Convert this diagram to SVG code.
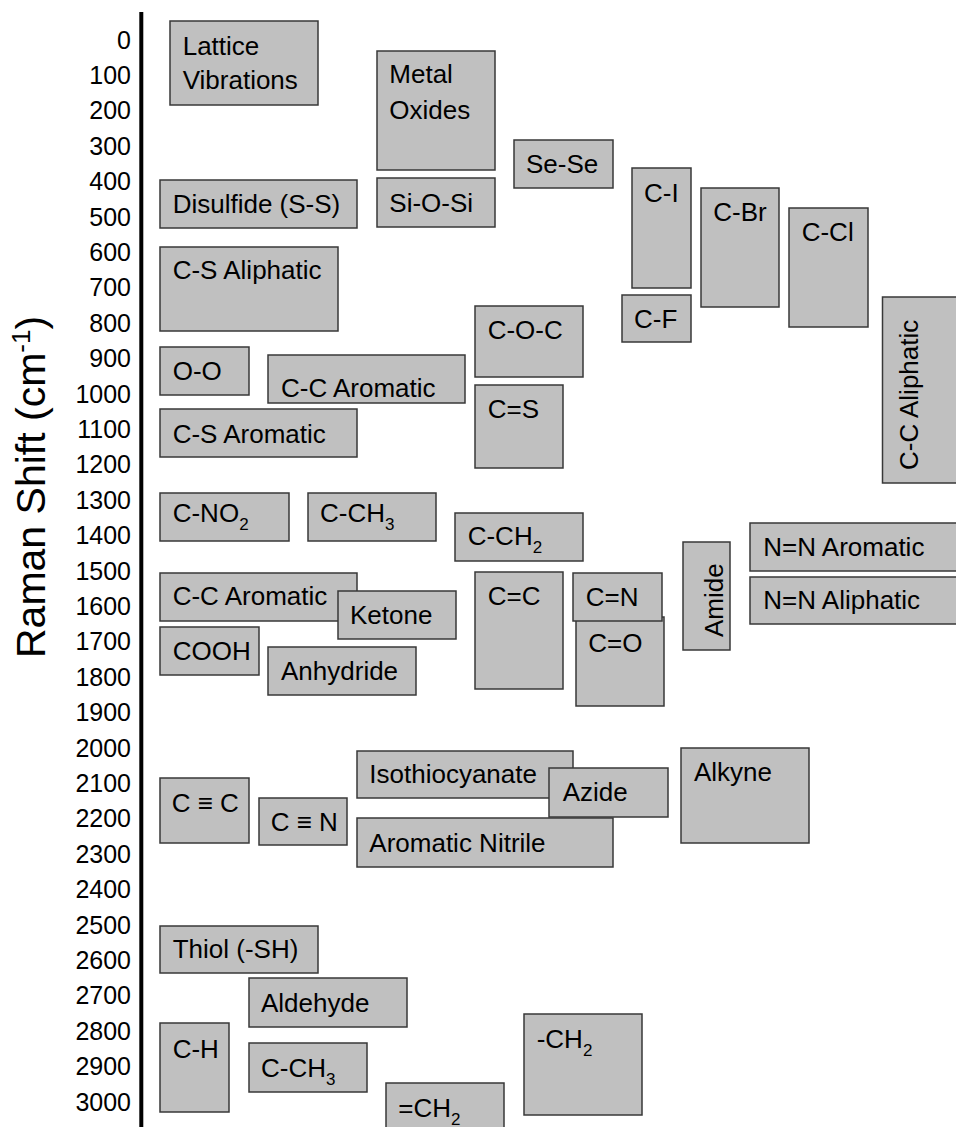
<svg xmlns="http://www.w3.org/2000/svg" width="956" height="1127" viewBox="0 0 956 1127">
<style>
.b{fill:#c0c0c0;stroke:#383838;stroke-width:1.5}
.t{font-family:"Liberation Sans",Arial,sans-serif;font-size:26px;fill:#000}
.k{font-family:"Liberation Sans",Arial,sans-serif;font-size:25px;fill:#000;text-anchor:end}
.s{font-size:17px}
</style>
<rect width="956" height="1127" fill="#fff"/>
<g id="axis">
<line x1="141.3" y1="12" x2="141.3" y2="1127" stroke="#000" stroke-width="4"/>
<text class="k" x="131" y="48.5">0</text>
<text class="k" x="131" y="83.9">100</text>
<text class="k" x="131" y="119.3">200</text>
<text class="k" x="131" y="154.7">300</text>
<text class="k" x="131" y="190.1">400</text>
<text class="k" x="131" y="225.5">500</text>
<text class="k" x="131" y="260.9">600</text>
<text class="k" x="131" y="296.3">700</text>
<text class="k" x="131" y="331.7">800</text>
<text class="k" x="131" y="367.1">900</text>
<text class="k" x="131" y="402.5">1000</text>
<text class="k" x="131" y="437.9">1100</text>
<text class="k" x="131" y="473.3">1200</text>
<text class="k" x="131" y="508.7">1300</text>
<text class="k" x="131" y="544.1">1400</text>
<text class="k" x="131" y="579.5">1500</text>
<text class="k" x="131" y="614.9">1600</text>
<text class="k" x="131" y="650.3">1700</text>
<text class="k" x="131" y="685.7">1800</text>
<text class="k" x="131" y="721.1">1900</text>
<text class="k" x="131" y="756.5">2000</text>
<text class="k" x="131" y="791.9">2100</text>
<text class="k" x="131" y="827.3">2200</text>
<text class="k" x="131" y="862.7">2300</text>
<text class="k" x="131" y="898.1">2400</text>
<text class="k" x="131" y="933.5">2500</text>
<text class="k" x="131" y="968.9">2600</text>
<text class="k" x="131" y="1004.3">2700</text>
<text class="k" x="131" y="1039.7">2800</text>
<text class="k" x="131" y="1075.1">2900</text>
<text class="k" x="131" y="1110.5">3000</text>
<text transform="translate(45,658) rotate(-90)" font-family="Liberation Sans,Arial,sans-serif" font-size="41" fill="#000">Raman Shift (cm<tspan font-size="26" dy="-15">-1</tspan><tspan dy="15">)</tspan></text>
</g>
<g id="connectors"/>
<g id="lattice"><rect class="b" x="170" y="21" width="148" height="84"/><text class="t" x="182.7" y="55">Lattice</text><text class="t" x="182.7" y="89">Vibrations</text></g>
<g id="disulfide"><rect class="b" x="160" y="180" width="197" height="48"/><text class="t" x="172.7" y="213">Disulfide (S-S)</text></g>
<g id="cs-aliphatic"><rect class="b" x="160" y="247" width="178" height="84"/><text class="t" x="172.7" y="279">C-S Aliphatic</text></g>
<g id="metal-oxides"><rect class="b" x="377" y="51" width="118" height="119"/><text class="t" x="389.3" y="83">Metal</text><text class="t" x="389.3" y="119">Oxides</text></g>
<g id="si-o-si"><rect class="b" x="377" y="178" width="118" height="49"/><text class="t" x="389.3" y="211.5">Si-O-Si</text></g>
<g id="se-se"><rect class="b" x="514" y="140" width="99" height="48"/><text class="t" x="526" y="173">Se-Se</text></g>
<g id="c-i"><rect class="b" x="632" y="168" width="59" height="120"/><text class="t" x="644" y="201.5">C-I</text></g>
<g id="c-f"><rect class="b" x="622" y="295" width="69" height="47"/><text class="t" x="634" y="328">C-F</text></g>
<g id="c-br"><rect class="b" x="701" y="188" width="78" height="119"/><text class="t" x="713.3" y="220.5">C-Br</text></g>
<g id="c-cl"><rect class="b" x="789" y="208" width="79" height="119"/><text class="t" x="801.7" y="240.5">C-Cl</text></g>
<g id="cc-aliphatic"><rect class="b" x="882.5" y="297" width="80" height="186"/><text class="t" transform="translate(918,470) rotate(-90)">C-C Aliphatic</text></g>
<g id="o-o"><rect class="b" x="160" y="347" width="89" height="48"/><text class="t" x="172.7" y="380">O-O</text></g>
<g id="cc-aromatic-1"><rect class="b" x="268" y="355" width="197" height="48"/><text class="t" x="281" y="396.5">C-C Aromatic</text></g>
<g id="cs-aromatic"><rect class="b" x="160" y="409" width="197" height="48"/><text class="t" x="172.7" y="442.5">C-S Aromatic</text></g>
<g id="c-o-c"><rect class="b" x="475" y="306" width="108" height="71"/><text class="t" x="487.7" y="339">C-O-C</text></g>
<g id="c-s-double"><rect class="b" x="475" y="385" width="88" height="83"/><text class="t" x="487.7" y="418">C=S</text></g>
<g id="c-no2"><rect class="b" x="160" y="493" width="129" height="48"/><text class="t" x="172.7" y="521.5">C-NO<tspan class="s" dy="8">2</tspan></text></g>
<g id="c-ch3"><rect class="b" x="308" y="493" width="128" height="48"/><text class="t" x="320" y="521.5">C-CH<tspan class="s" dy="8">3</tspan></text></g>
<g id="c-ch2"><rect class="b" x="455" y="513" width="128" height="48"/><text class="t" x="467.7" y="545">C-CH<tspan class="s" dy="8">2</tspan></text></g>
<g id="cc-aromatic-2"><rect class="b" x="160" y="573" width="197" height="48"/><text class="t" x="172.7" y="605">C-C Aromatic</text></g>
<g id="ketone"><rect class="b" x="338" y="591" width="118" height="48"/><text class="t" x="350" y="624">Ketone</text></g>
<g id="cooh"><rect class="b" x="160" y="627" width="99" height="48"/><text class="t" x="172.7" y="660">COOH</text></g>
<g id="anhydride"><rect class="b" x="268" y="647" width="148" height="48"/><text class="t" x="281" y="680">Anhydride</text></g>
<g id="c-c-double"><rect class="b" x="475" y="572" width="88" height="117"/><text class="t" x="487.7" y="605">C=C</text></g>
<g id="c-o-double"><rect class="b" x="576" y="617" width="88" height="89"/><text class="t" x="588.3" y="651.5">C=O</text></g>
<g id="c-n-double"><rect class="b" x="573" y="573" width="89" height="48"/><text class="t" x="585.7" y="606">C=N</text></g>
<g id="amide"><rect class="b" x="683" y="542" width="47" height="108"/><text class="t" transform="translate(723.3,637) rotate(-90)">Amide</text></g>
<g id="nn-aromatic"><rect class="b" x="750" y="523" width="210" height="48"/><text class="t" x="763.3" y="556">N=N Aromatic</text></g>
<g id="nn-aliphatic"><rect class="b" x="750" y="577" width="210" height="47"/><text class="t" x="763.3" y="609.3">N=N Aliphatic</text></g>
<g id="c-c-triple"><rect class="b" x="160" y="778" width="89" height="65"/><text class="t" x="171.7" y="811.5">C ≡ C</text></g>
<g id="c-n-triple"><rect class="b" x="259" y="798" width="88" height="47"/><text class="t" x="270.7" y="831">C ≡ N</text></g>
<g id="isothiocyanate"><rect class="b" x="357" y="751" width="216" height="47"/><text class="t" x="369.3" y="783.3">Isothiocyanate</text></g>
<g id="azide"><rect class="b" x="549" y="768" width="119" height="49"/><text class="t" x="562.7" y="801">Azide</text></g>
<g id="aromatic-nitrile"><rect class="b" x="357" y="818" width="256" height="49"/><text class="t" x="369.3" y="851.5">Aromatic Nitrile</text></g>
<g id="alkyne"><rect class="b" x="681" y="748" width="128" height="95"/><text class="t" x="694" y="781">Alkyne</text></g>
<g id="thiol"><rect class="b" x="160" y="926" width="158" height="47"/><text class="t" x="172.7" y="958.3">Thiol (-SH)</text></g>
<g id="aldehyde"><rect class="b" x="249" y="978" width="158" height="49"/><text class="t" x="261" y="1011.5">Aldehyde</text></g>
<g id="c-h"><rect class="b" x="160" y="1023" width="69" height="89"/><text class="t" x="172.7" y="1058.3">C-H</text></g>
<g id="c-ch3-2"><rect class="b" x="249" y="1043" width="118" height="49"/><text class="t" x="261" y="1076.5">C-CH<tspan class="s" dy="8">3</tspan></text></g>
<g id="ch2-single"><rect class="b" x="524" y="1014" width="118" height="101"/><text class="t" x="536.7" y="1048.3">-CH<tspan class="s" dy="8">2</tspan></text></g>
<g id="ch2-double"><rect class="b" x="386" y="1083" width="118" height="60"/><text class="t" x="398.3" y="1116.5">=CH<tspan class="s" dy="8">2</tspan></text></g>
</svg>
